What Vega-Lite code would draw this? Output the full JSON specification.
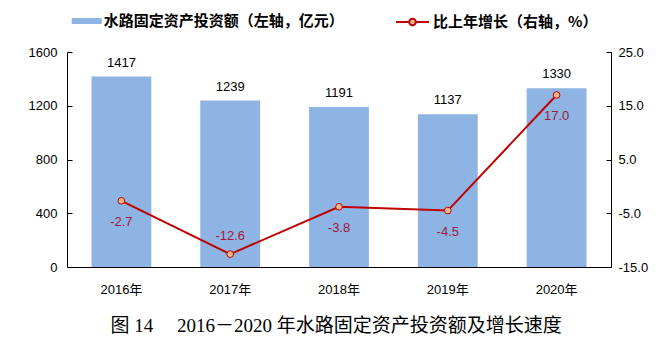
{
  "$schema": "https://vega.github.io/schema/vega-lite/v6.json",
  "width": 544,
  "height": 215,
  "autosize": {"type": "none"},
  "padding": {"left": 67, "top": 52, "right": 61, "bottom": 84},
  "background": "white",
  "data": {"values": [
    {"year": "2016年", "amount": 1417, "growth": -2.7},
    {"year": "2017年", "amount": 1239, "growth": -12.6},
    {"year": "2018年", "amount": 1191, "growth": -3.8},
    {"year": "2019年", "amount": 1137, "growth": -4.5},
    {"year": "2020年", "amount": 1330, "growth": 17.0}
  ]},
  "title": {
    "text": "图 14　 2016－2020 年水路固定资产投资额及增长速度",
    "orient": "bottom",
    "font": "Liberation Serif, Noto Sans CJK SC",
    "fontSize": 19,
    "fontWeight": "normal",
    "color": "#000000",
    "offset": 21,
    "anchor": "middle",
    "dx": -3
  },
  "config": {
    "locale": {"number": {"decimal": ".", "thousands": ",", "grouping": [3], "currency": ["", ""], "minus": "-"}},
    "view": {"stroke": null},
    "axis": {
      "labelFont": "Liberation Sans, Noto Sans CJK SC",
      "labelFontSize": 13,
      "labelColor": "#000000",
      "domainColor": "#000000",
      "tickColor": "#000000",
      "grid": false
    }
  },
  "layer": [
    {
      "layer": [
        {
          "mark": {"type": "bar", "color": "#8EB4E3"},
          "encoding": {
            "x": {"field": "year", "type": "nominal", "title": null,
              "scale": {"paddingInner": 0.45, "paddingOuter": 0.225},
              "axis": {"labelAngle": 0, "ticks": false, "labelPadding": 16}},
            "y": {"field": "amount", "type": "quantitative", "title": null,
              "scale": {"domain": [0, 1600]},
              "axis": {"orient": "left", "values": [0, 400, 800, 1200, 1600], "format": "d", "tickSize": -5, "labelPadding": 15}},
            "fill": {"datum": "水路固定资产投资额（左轴，亿元）", "type": "nominal",
              "scale": {"range": ["#8EB4E3"]},
              "legend": {"orient": "none", "legendX": 4.7, "legendY": -46, "title": null, "padding": 0,
                "symbolType": "M-1,-0.2H1V0.2H-1Z", "symbolSize": 900, "symbolStrokeWidth": 0,
                "labelFont": "Noto Sans CJK SC", "labelFontSize": 15, "labelFontWeight": "bold", "labelColor": "#000000", "labelOffset": 2, "labelLimit": 400}}
          }
        },
        {
          "mark": {"type": "text", "dy": -10, "baseline": "alphabetic", "font": "Liberation Sans", "fontSize": 13, "color": "#000000"},
          "encoding": {
            "x": {"field": "year", "type": "nominal"},
            "y": {"field": "amount", "type": "quantitative"},
            "text": {"field": "amount", "type": "quantitative", "format": "d"}
          }
        }
      ]
    },
    {
      "layer": [
        {
          "mark": {"type": "line", "strokeWidth": 2,
            "point": {"filled": true, "fill": "#F8B88B", "size": 45, "strokeWidth": 1}},
          "encoding": {
            "x": {"field": "year", "type": "nominal"},
            "y": {"field": "growth", "type": "quantitative", "title": null,
              "scale": {"domain": [-15, 25]},
              "axis": {"orient": "right", "values": [-15, -5, 5, 15, 25], "format": ".1f", "tickSize": -5, "labelPadding": 12}},
            "stroke": {"datum": "比上年增长（右轴，%）", "type": "nominal",
              "scale": {"range": ["#C00000"]},
              "legend": {"orient": "none", "legendX": 328, "legendY": -47.5, "title": null, "padding": 0,
                "symbolType": "M-1,0H-0.2M0.2,0H1M-0.2,0A0.2,0.2,0,1,1,0.2,0A0.2,0.2,0,1,1,-0.2,0Z",
                "symbolSize": 1089, "symbolStrokeWidth": 2, "symbolFillColor": "#F8B88B",
                "labelFont": "Noto Sans CJK SC", "labelFontSize": 15, "labelFontWeight": "bold", "labelColor": "#000000", "labelOffset": 3, "labelLimit": 400}}
          }
        },
        {
          "transform": [{"filter": "datum.growth > -10"}],
          "mark": {"type": "text", "dy": 21, "baseline": "middle", "font": "Liberation Sans", "fontSize": 13, "color": "#A0183C"},
          "encoding": {
            "x": {"field": "year", "type": "nominal"},
            "y": {"field": "growth", "type": "quantitative"},
            "text": {"field": "growth", "type": "quantitative", "format": ".1f"}
          }
        },
        {
          "transform": [{"filter": "datum.growth <= -10"}],
          "mark": {"type": "text", "dy": -18, "baseline": "middle", "font": "Liberation Sans", "fontSize": 13, "color": "#A0183C"},
          "encoding": {
            "x": {"field": "year", "type": "nominal"},
            "y": {"field": "growth", "type": "quantitative"},
            "text": {"field": "growth", "type": "quantitative", "format": ".1f"}
          }
        }
      ]
    }
  ],
  "resolve": {"scale": {"y": "independent"}}
}
